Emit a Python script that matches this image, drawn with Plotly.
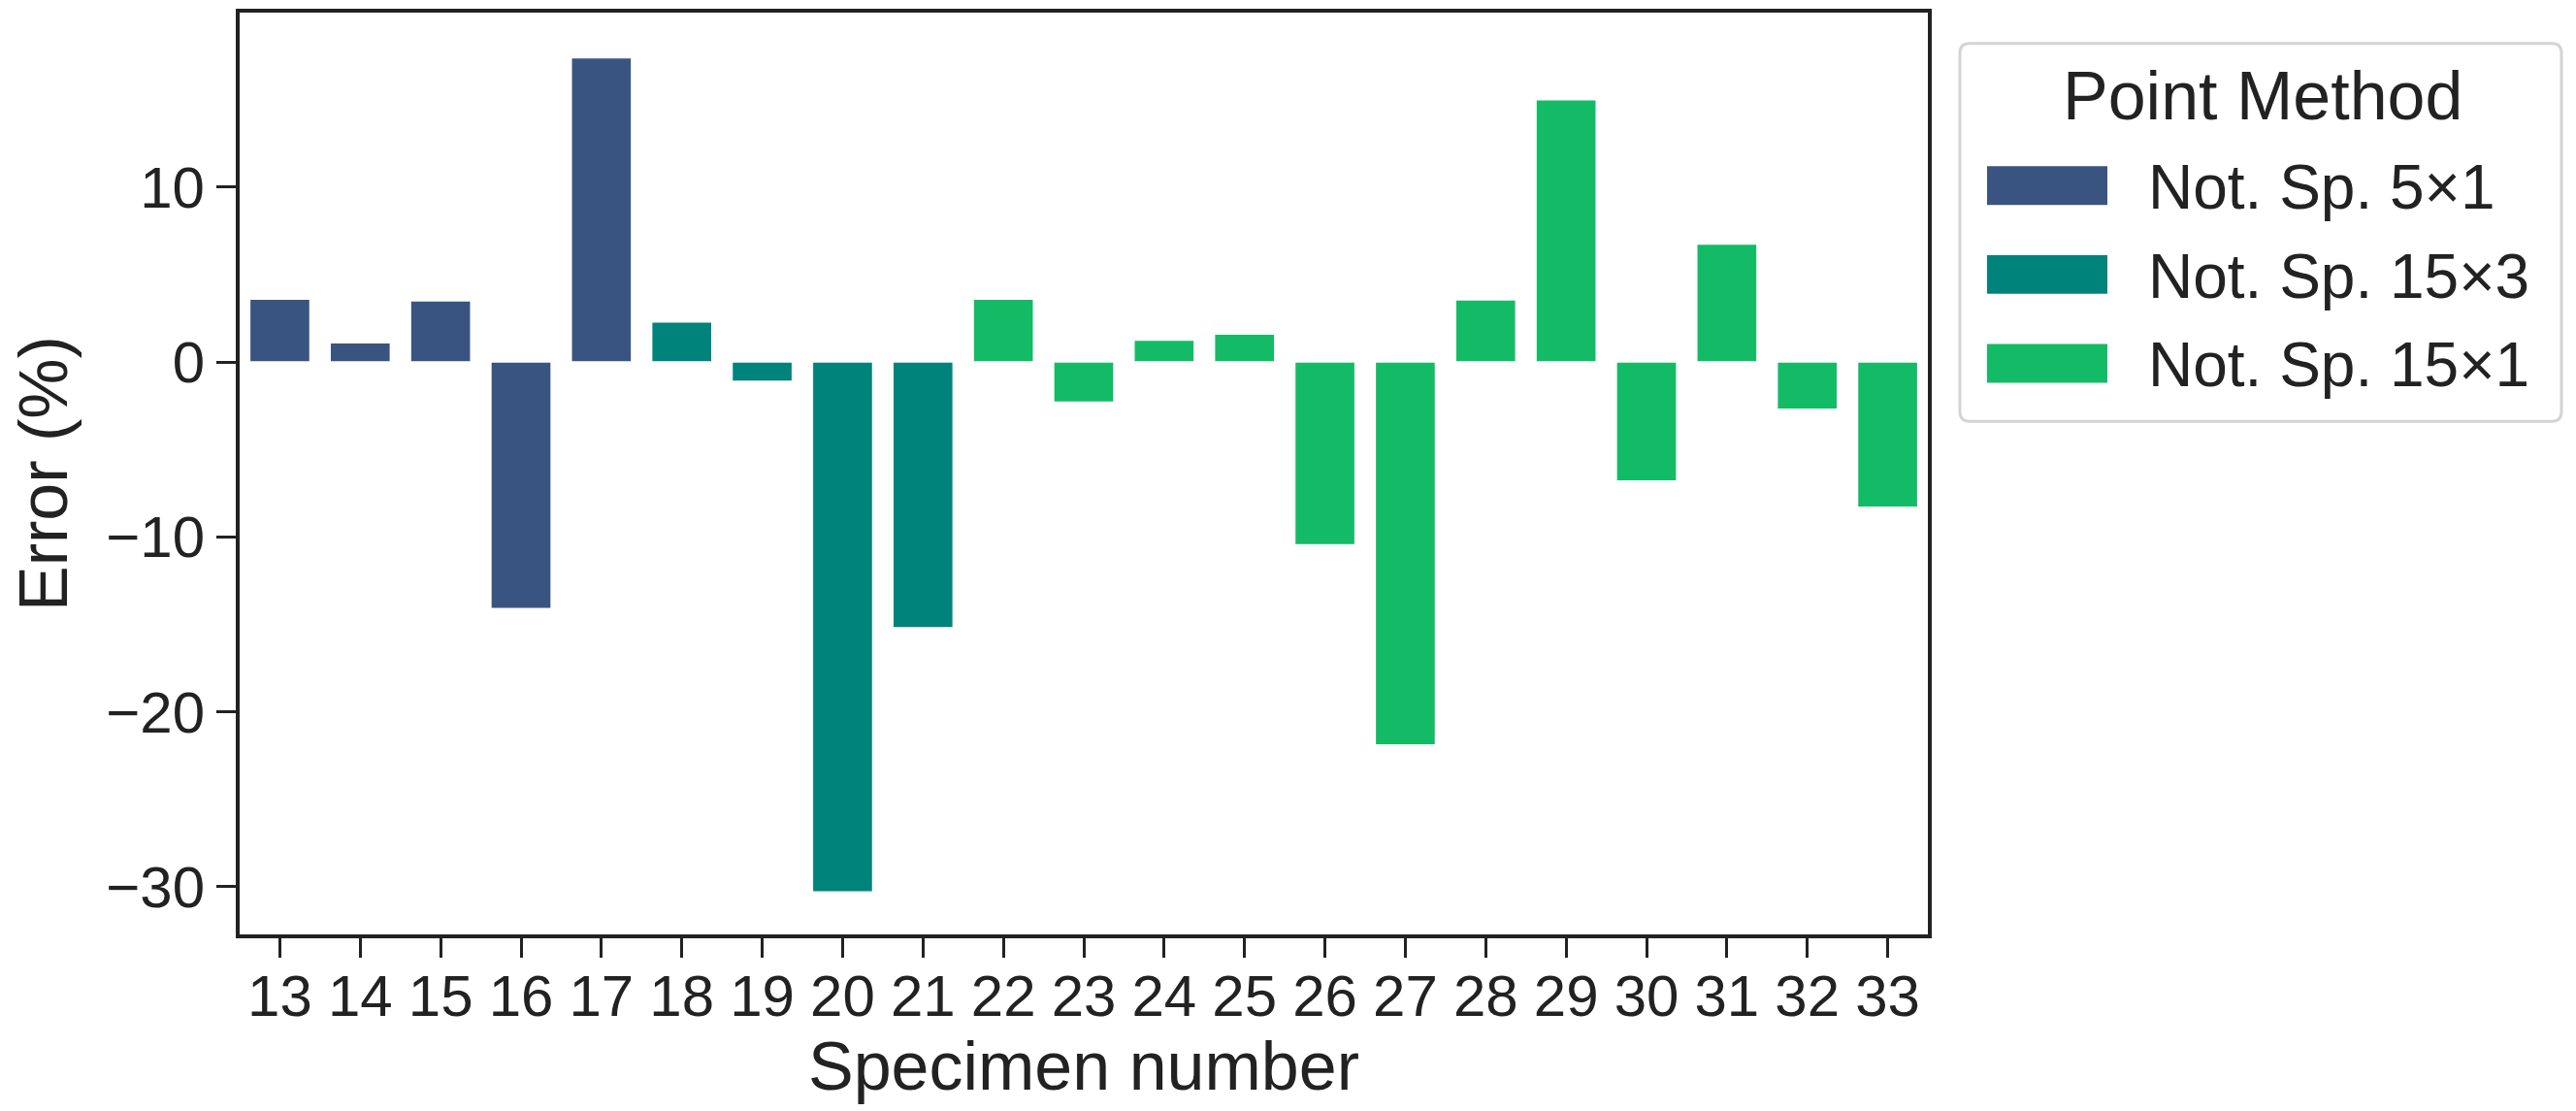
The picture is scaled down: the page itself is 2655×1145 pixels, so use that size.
import plotly.graph_objects as go

# ---- data ----
specimens = [str(s) for s in range(13, 34)]
errors = [3.6, 1.1, 3.5, -14.1, 17.4, 2.3, -1.1, -30.3, -15.2, 3.6, -2.3,
          1.25, 1.6, -10.45, -21.9, 3.55, 15.0, -6.8, 6.75, -2.7, -8.3]
methods = (["Not. Sp. 5×1"] * 5 + ["Not. Sp. 15×3"] * 4 + ["Not. Sp. 15×1"] * 12)
method_order = ["Not. Sp. 5×1", "Not. Sp. 15×3", "Not. Sp. 15×1"]
method_colors = ["#3a5482", "#00837a", "#14bb66"]
y_ticks = [-30, -20, -10, 0, 10]

W, H = 2655, 1145
L, R, T, B = 247, 1987, 9, 963  # plot area in pixels
FONT = "Liberation Sans, Arial, sans-serif"

def px_x(p):
    return (p - L) / (R - L)

def px_y(p):
    return (B - p) / (B - T)

fig = go.Figure()
for m, c in zip(method_order, method_colors):
    xs = [s for s, mm in zip(specimens, methods) if mm == m]
    ys = [e for e, mm in zip(errors, methods) if mm == m]
    fig.add_trace(go.Bar(x=xs, y=ys, name=m, marker=dict(color=c, line=dict(color="white", width=1.5)),
                         showlegend=False))

fig.update_layout(
    width=W, height=H,
    margin=dict(l=L, r=W - R, t=T, b=H - B, pad=0),
    paper_bgcolor="white", plot_bgcolor="white",
    barmode="relative", bargap=0.25,
    font=dict(family=FONT, color="#222222"),
)
fig.update_xaxes(
    type="category", categoryorder="array", categoryarray=specimens,
    range=[-0.5, len(specimens) - 0.5],
    showline=True, mirror=True, linewidth=4, linecolor="#222222",
    ticks="outside", ticklen=20, tickwidth=3, tickcolor="#222222",
    tickfont=dict(size=60, family=FONT, color="#222222"),
    ticklabelstandoff=-12,
    showgrid=False, zeroline=False,
    title=dict(text="Specimen number", font=dict(size=70, family=FONT, color="#222222"), standoff=16),
)
fig.update_yaxes(
    range=[-32.73, 19.98], tickvals=y_ticks, ticktext=["\u221230", "\u221220", "\u221210", "0", "10"],
    showline=True, mirror=True, linewidth=4, linecolor="#222222",
    ticks="outside", ticklen=20, tickwidth=3, tickcolor="#222222",
    tickfont=dict(size=60, family=FONT, color="#222222"),
    showgrid=False, zeroline=False,
    title=dict(text="Error (%)", font=dict(size=70, family=FONT, color="#222222"), standoff=18),
)

# ---- legend drawn manually (large swatches like matplotlib) ----
bx0, bx1, by0, by1 = 2020, 2640, 41, 432
r = 10
path = (f"M {px_x(bx0 + r)} {px_y(by0)} L {px_x(bx1 - r)} {px_y(by0)} "
        f"Q {px_x(bx1)} {px_y(by0)} {px_x(bx1)} {px_y(by0 + r)} "
        f"L {px_x(bx1)} {px_y(by1 - r)} Q {px_x(bx1)} {px_y(by1)} {px_x(bx1 - r)} {px_y(by1)} "
        f"L {px_x(bx0 + r)} {px_y(by1)} Q {px_x(bx0)} {px_y(by1)} {px_x(bx0)} {px_y(by1 - r)} "
        f"L {px_x(bx0)} {px_y(by0 + r)} Q {px_x(bx0)} {px_y(by0)} {px_x(bx0 + r)} {px_y(by0)} Z")
fig.add_shape(type="path", path=path, xref="paper", yref="paper",
              line=dict(color="#d4d4d4", width=3), fillcolor="white", layer="above")
fig.add_annotation(text="Point Method", xref="paper", yref="paper", x=px_x(2332), y=px_y(95),
                   xanchor="center", yanchor="middle", showarrow=False,
                   font=dict(size=70, family=FONT, color="#222222"))
row_centers = [188, 280, 372]
for m, c, yc in zip(method_order, method_colors, row_centers):
    fig.add_shape(type="rect", xref="paper", yref="paper",
                  x0=px_x(2048), x1=px_x(2172), y0=px_y(yc - 20), y1=px_y(yc + 20),
                  fillcolor=c, line=dict(width=0), layer="above")
    fig.add_annotation(text=m, xref="paper", yref="paper", x=px_x(2212), y=px_y(yc + 2),
                       xanchor="left", yanchor="middle", showarrow=False,
                       font=dict(size=64, family=FONT, color="#222222"))

fig.write_html("out.html", config={"displayModeBar": False},
               post_script="document.body.style.margin='0';document.body.style.overflow='hidden';")
